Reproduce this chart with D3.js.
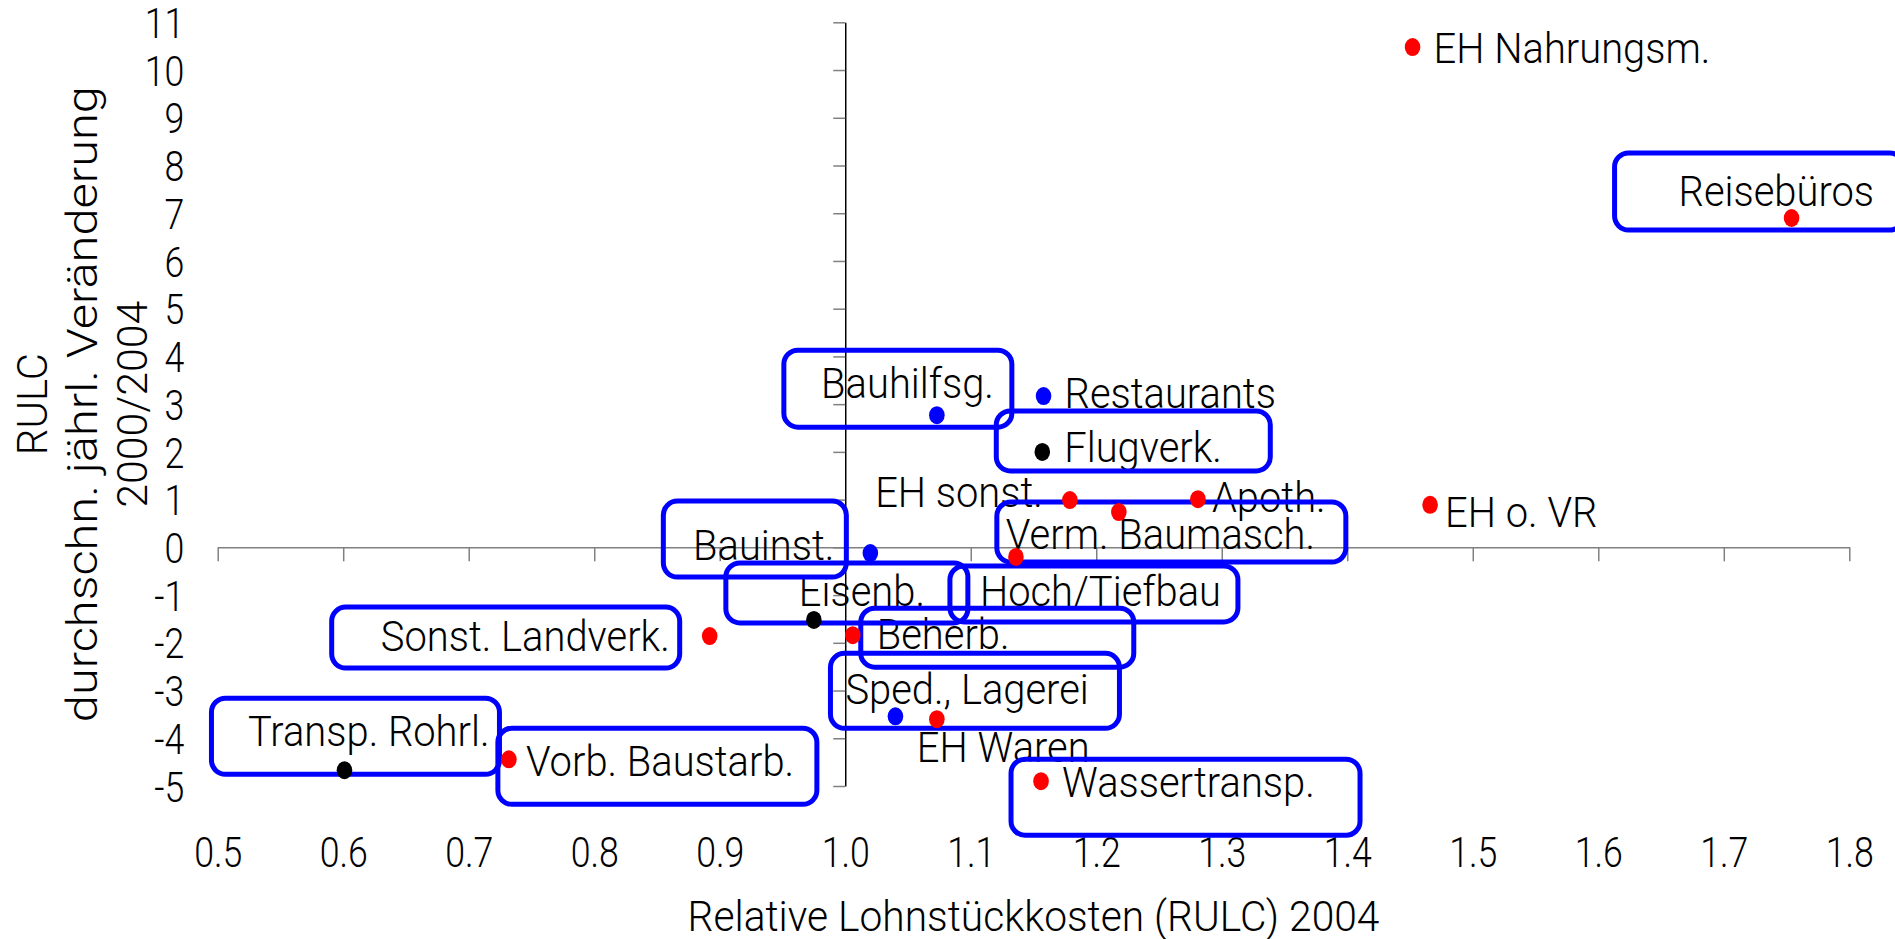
<!DOCTYPE html>
<html>
<head>
<meta charset="utf-8">
<script src="https://cdn.jsdelivr.net/npm/d3@7"></script>
<style>
body { margin: 0; background: #fff; }
text { font-family: Roboto, "Liberation Sans", sans-serif; font-weight: 300; fill: #000; }
</style>
</head>
<body>
<div id="chart"></div>
<script>
// data
var labels = ["EH Nahrungsm.", "Reisebüros", "Restaurants", "Bauhilfsg.", "Flugverk.", "EH sonst.",
	"Apoth.", "Verm. Baumasch.", "EH o. VR", "Bauinst.", "Hoch/Tiefbau", "Eisenb.",
	"Sonst. Landverk.", "Beherb.", "Sped., Lagerei", "EH Waren", "Transp. Rohrl.",
	"Vorb. Baustarb.", "Wassertransp."];
var xValues = [1.452, 1.754, 1.158, 1.073, 1.157, 1.179, 1.281, 1.218, 1.466, 1.020, 1.136, 0.975,
	0.892, 1.006, 1.040, 1.073, 0.601, 0.732, 1.156];
var yValues = [10.48, 6.90, 3.17, 2.77, 2.00, 0.99, 1.01, 0.74, 0.89, -0.12, -0.20, -1.52,
	-1.86, -1.84, -3.54, -3.60, -4.67, -4.44, -4.90];
// 0 = red, 1 = blue, 2 = black
var groups = [0, 0, 1, 1, 2, 0, 0, 0, 0, 1, 0, 2, 0, 0, 1, 0, 2, 0, 0];
var groupColors = ["#ff0000", "#0000ff", "#000000"];

var xTicks = [0.5, 0.6, 0.7, 0.8, 0.9, 1.0, 1.1, 1.2, 1.3, 1.4, 1.5, 1.6, 1.7, 1.8];
var yTicks = [-5, -4, -3, -2, -1, 0, 1, 2, 3, 4, 5, 6, 7, 8, 9, 10, 11];
var xTitle = "Relative Lohnstückkosten (RULC) 2004";
var yTitle = ["RULC", "durchschn. jährl. Veränderung", "2000/2004"];

// label placement (px offsets from the dot), box = [x0, y0, x1, y1] relative to the dot
var labelLayout = [
	{dx: 21, dy: 16, anchor: "start"},
	{dx: -113, dy: -12, anchor: "start", box: [-177, -65, 112, 12]},
	{dx: 21, dy: 12, anchor: "start"},
	{dx: 57, dy: -17, anchor: "end", box: [-153, -65, 75, 12]},
	{dx: 22, dy: 10, anchor: "start", box: [-46, -41, 228, 19]},
	{dx: -27, dy: 7, anchor: "end"},
	{dx: 14, dy: 13, anchor: "start"},
	{dx: -113, dy: 37, anchor: "start", box: [-122, -10, 227, 50]},
	{dx: 15, dy: 22, anchor: "start"},
	{dx: -36, dy: 7, anchor: "end", box: [-207, -52, -24, 24]},
	{dx: -36, dy: 49, anchor: "start", box: [-66, 9, 222, 65]},
	{dx: -15, dy: -14, anchor: "start", box: [-88, -57, 154, 3]},
	{dx: -40, dy: 15, anchor: "end", box: [-378, -29, -30, 32]},
	{dx: 24, dy: 14, anchor: "start", box: [8, -27, 281, 32]},
	{dx: -50, dy: -12, anchor: "start", box: [-65, -63, 224, 12]},
	{dx: -20, dy: 43, anchor: "start"},
	{dx: 145, dy: -24, anchor: "end", box: [-133, -72, 155, 4]},
	{dx: 17, dy: 17, anchor: "start", box: [-11, -31, 308, 45]},
	{dx: 21, dy: 16, anchor: "start", box: [-30, -22, 319, 54]}
];

var width = 1895,
	height = 939;
var fontSize = 42;
var squeezeText = 0.95,
	squeezeTitle = 0.97,
	squeezeTicks = 0.85;

var svg = d3.select("#chart")
	.append("svg")
	.attr("width", width)
	.attr("height", height);

var x = d3.scaleLinear().domain([0.5, 1.8]).range([217.7, 1849.3]);
var y = d3.scaleLinear().domain([-5, 11]).range([786, 22.3]);

// narrow the text horizontally around its anchor point
function squeeze(sel, sx)
{
	sel.attr("transform", function() {
		var t = d3.select(this);
		return "translate(" + (+t.attr("x") || 0) + "," + (+t.attr("y") || 0) + ") scale(" + sx + ",1)";
	}).attr("x", 0).attr("y", 0);
}

// x axis, crossing at y = 0
var xAxis = svg.append("g")
	.attr("transform", "translate(0," + y(0) + ")")
	.call(d3.axisBottom(x).tickValues(xTicks).tickFormat(d3.format(".1f"))
		.tickSize(14).tickSizeOuter(0).tickPadding(276));
xAxis.select(".domain").attr("stroke", "#808080").attr("stroke-width", 1.5);
xAxis.selectAll(".tick line").attr("stroke", "#808080").attr("stroke-width", 1.5);
xAxis.selectAll(".tick text").attr("font-size", fontSize).call(squeeze, squeezeTicks);
xAxis.attr("font-family", null);

// y axis, crossing at x = 1.0
var yAxis = svg.append("g")
	.attr("transform", "translate(" + x(1.0) + ",0)")
	.call(d3.axisLeft(y).tickValues(yTicks).tickFormat(function(d) { return String(d); })
		.tickSize(12).tickSizeOuter(0).tickPadding(649));
yAxis.select(".domain").attr("stroke", "#000").attr("stroke-width", 1.5);
yAxis.selectAll(".tick line").attr("stroke", "#808080").attr("stroke-width", 1.5);
yAxis.selectAll(".tick text").attr("font-size", fontSize).attr("dy", "0.36em").call(squeeze, squeezeTicks);
yAxis.attr("font-family", null);

// axis titles
svg.append("text")
	.attr("x", (x.range()[0] + x.range()[1]) / 2)
	.attr("y", 931)
	.attr("text-anchor", "middle")
	.attr("font-size", fontSize)
	.text(xTitle)
	.call(squeeze, squeezeTitle);

var yTitleLen = [102, 636, 207];
svg.selectAll("text.ytitle")
	.data(yTitle)
	.enter().append("text")
	.attr("class", "ytitle")
	.attr("transform", function(d, i) { return "translate(" + (47 + i * 50) + "," + ((y.range()[0] + y.range()[1]) / 2) + ") rotate(-90)"; })
	.attr("text-anchor", "middle")
	.attr("font-size", fontSize)
	.attr("textLength", function(d, i) { return yTitleLen[i]; })
	.attr("lengthAdjust", "spacingAndGlyphs")
	.text(function(d) { return d; });

var points = labels.map(function(name, i) {
	return {name: name, x: xValues[i], y: yValues[i], group: groups[i], layout: labelLayout[i]};
});

// labels
svg.append("g")
	.selectAll("text")
	.data(points)
	.enter().append("text")
	.attr("x", function(d) { return x(d.x) + d.layout.dx; })
	.attr("y", function(d) { return y(d.y) + d.layout.dy; })
	.attr("text-anchor", function(d) { return d.layout.anchor; })
	.attr("font-size", fontSize)
	.text(function(d) { return d.name; })
	.call(squeeze, squeezeText);

// label borders
svg.append("g")
	.selectAll("rect")
	.data(points.filter(function(d) { return d.layout.box; }))
	.enter().append("rect")
	.attr("x", function(d) { return x(d.x) + d.layout.box[0]; })
	.attr("y", function(d) { return y(d.y) + d.layout.box[1]; })
	.attr("width", function(d) { return d.layout.box[2] - d.layout.box[0]; })
	.attr("height", function(d) { return d.layout.box[3] - d.layout.box[1]; })
	.attr("rx", 14)
	.attr("fill", "none")
	.attr("stroke", "#0000ff")
	.attr("stroke-width", 5);

// dots
svg.append("g")
	.selectAll("ellipse")
	.data(points)
	.enter().append("ellipse")
	.attr("cx", function(d) { return x(d.x); })
	.attr("cy", function(d) { return y(d.y); })
	.attr("rx", 7.8)
	.attr("ry", 9)
	.attr("fill", function(d) { return groupColors[d.group]; });
</script>
</body>
</html>
